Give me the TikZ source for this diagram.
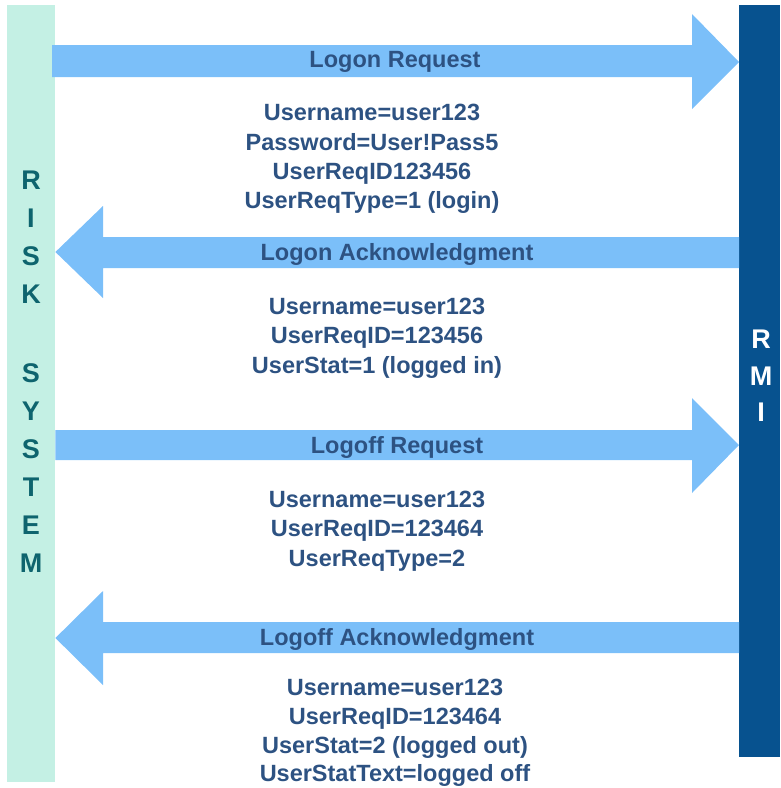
\documentclass[tikz,border=0pt]{standalone}
\usepackage{fontspec}
\setmainfont{Liberation Sans}
\definecolor{arrowblue}{RGB}{123,191,249}
\definecolor{mintbar}{RGB}{196,240,228}
\definecolor{rmiblue}{RGB}{7,82,143}
\definecolor{txtblue}{RGB}{45,82,130}
\definecolor{tealtxt}{RGB}{14,100,110}
\begin{document}
\begin{tikzpicture}[x=1pt,y=-1pt,
  msgarrow/.style={fill=arrowblue,draw=none},
  title/.style={font=\fontsize{23.5}{27}\selectfont\bfseries,text=txtblue,inner sep=0pt},
  body/.style={font=\fontsize{23.5}{29.3}\selectfont\bfseries,text=txtblue,align=center,inner sep=0pt},
  sidelbl/.style={font=\fontsize{27}{38}\selectfont\bfseries,align=center,inner sep=0pt}]
\useasboundingbox (0,0) rectangle (780,788);
% side bars
\node[fill=mintbar,minimum width=48,minimum height=777,inner sep=0pt,anchor=north west] (risk) at (7,5) {};
\node[fill=rmiblue,minimum width=41,minimum height=752,inner sep=0pt,anchor=north west] (rmi) at (739,5) {};
\node[sidelbl,text=tealtxt] (risklbl) at (31,237.5) {R\\I\\S\\K};
\node[sidelbl,text=tealtxt] (syslbl) at (31,468.5) {S\\Y\\S\\T\\E\\M};
\node[sidelbl,text=white,font=\fontsize{27}{36.5}\selectfont\bfseries] (rmilbl) at (761,376) {R\\M\\I};
% arrow 1: Logon Request (right)
\fill[msgarrow] (52,45) -- (692,45) -- (692,14) -- (rmi.west |- 0,62) -- (692,109) -- (692,77) -- (52,77) -- cycle;
% arrow 2: Logon Acknowledgment (left)
\fill[msgarrow] (rmi.west |- 0,237) -- (103,237) -- (103,206) -- (risk.east |- 0,252) -- (103,298) -- (103,268) -- (rmi.west |- 0,268) -- cycle;
% arrow 3: Logoff Request (right)
\fill[msgarrow] (risk.east |- 0,430) -- (692,430) -- (692,398) -- (rmi.west |- 0,445) -- (692,493) -- (692,460) -- (risk.east |- 0,460) -- cycle;
% arrow 4: Logoff Acknowledgment (left)
\fill[msgarrow] (rmi.west |- 0,622) -- (103,622) -- (103,591) -- (risk.east |- 0,638) -- (103,685) -- (103,653) -- (rmi.west |- 0,653) -- cycle;
% titles
\node[title] (t1) at (395,62) {Logon Request};
\node[title] (t2) at (397,254) {Logon Acknowledgment};
\node[title] (t3) at (397,447) {Logoff Request};
\node[title] (t4) at (397,639) {Logoff Acknowledgment};
% bodies
\node[body] (b1) at (372,159) {Username=user123\\Password=User!Pass5\\UserReqID123456\\UserReqType=1 (login)};
\node[body] (b2) at (377,338) {Username=user123\\UserReqID=123456\\UserStat=1 (logged in)};
\node[body] (b3) at (377,531) {Username=user123\\UserReqID=123464\\UserReqType=2};
\node[body,font=\fontsize{23.5}{28.7}\selectfont\bfseries] (b4) at (395,733) {Username=user123\\UserReqID=123464\\UserStat=2 (logged out)\\UserStatText=logged off};
\end{tikzpicture}
\end{document}
